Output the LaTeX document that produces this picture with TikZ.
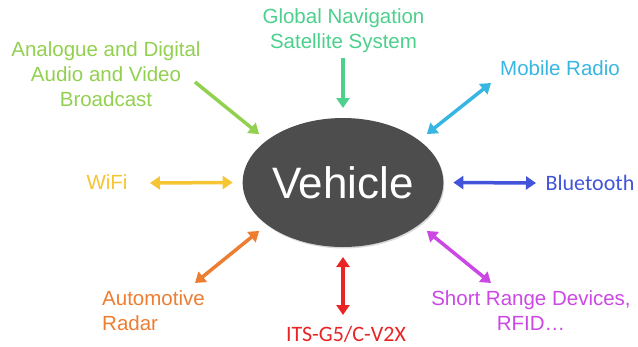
\documentclass[tikz,border=0pt]{standalone}
\usepackage{fontspec}
\setmainfont{Liberation Sans}
\newfontfamily\calibri{Carlito}
\usepackage{tikz}
\usetikzlibrary{arrows.meta, shapes.geometric, shadows}

\definecolor{vehgray}{HTML}{4D4D4D}
\definecolor{bcgreen}{HTML}{92D050}
\definecolor{gnssgreen}{HTML}{4CD08C}
\definecolor{mrblue}{HTML}{38B6E2}
\definecolor{wifigold}{HTML}{F5C533}
\definecolor{btblue}{HTML}{4254DA}
\definecolor{radorange}{HTML}{ED7D31}
\definecolor{itsred}{HTML}{E82424}
\definecolor{srdpurple}{HTML}{CC48E4}

\begin{document}
\begin{tikzpicture}[
    x=1pt, y=-1pt,
    >={Triangle[length=10pt, width=13pt]},
    veh/.style={ellipse, fill=vehgray, minimum width=200pt, minimum height=129pt,
        inner sep=0pt, outer sep=10pt, text=white, font=\fontsize{44}{50}\selectfont,
        drop shadow={shadow xshift=1pt, shadow yshift=-1.5pt, opacity=0.3}},
    lbl/.style={inner sep=0pt, align=center, font=\fontsize{20.5}{25}\selectfont},
    arr/.style={<->, line width=3.5pt},
    arrin/.style={->, line width=3.5pt}
]
\useasboundingbox (0,0) rectangle (638,346);

\node[veh] (V) at (343,182.5) {Vehicle};

% labels round the vehicle
\node[lbl, gnssgreen] (GNSS) at (343.5,31) {Global Navigation\\Satellite System};
\node[lbl, bcgreen] (DAB) at (106,74.5) {Analogue and Digital\\Audio and Video\\Broadcast};
\node[lbl, mrblue] (MR) at (560,68.5) {Mobile Radio};
\node[lbl, wifigold] (WIFI) at (107,182.5) {WiFi};
\node[lbl, btblue, font=\calibri\fontsize{22}{26}\selectfont] (BT) at (590,183) {Bluetooth};
\node[lbl, radorange, align=left, anchor=west] (RAD) at (102,311) {Automotive\\Radar};
\node[lbl, itsred, font=\calibri\fontsize{22}{26}\selectfont] (ITS) at (346,334.5) {ITS-G5/C-V2X};
\node[lbl, srdpurple] (SRD) at (531,311) {Short Range Devices,\\RFID…};

% outer arrow ends
\coordinate (GNSS-t) at (343,58);
\coordinate (DAB-t) at (195,82);
\coordinate (MR-t) at (491,83);
\coordinate (WIFI-t) at (150,183);
\coordinate (BT-t) at (536,183);
\coordinate (RAD-t) at (195,283);
\coordinate (ITS-t) at (343,315);
\coordinate (SRD-t) at (491,283);

\draw[arrin, gnssgreen] (GNSS-t) -- (V.90);
\draw[arrin, bcgreen] (DAB-t) -- (V.150);
\draw[arr, mrblue] (MR-t) -- (V.30);
\draw[arr, wifigold] (WIFI-t) -- (V.180);
\draw[arr, btblue] (BT-t) -- (V.0);
\draw[arr, radorange] (RAD-t) -- (V.210);
\draw[arr, itsred] (ITS-t) -- (V.270);
\draw[arr, srdpurple] (SRD-t) -- (V.330);
\end{tikzpicture}
\end{document}
